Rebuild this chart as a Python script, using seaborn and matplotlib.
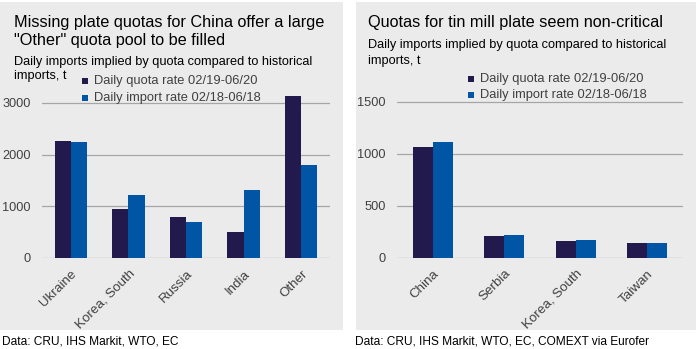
import matplotlib
matplotlib.use("Agg")
import matplotlib.pyplot as plt
import seaborn as sns
import pandas as pd
from matplotlib.patches import Rectangle

sns.set_theme(style="white")
plt.rcParams['font.family'] = ['Liberation Sans', 'DejaVu Sans']

series = ["Daily quota rate 02/19-06/20", "Daily import rate 02/18-06/18"]
left_cats = ["Ukraine", "Korea, South", "Russia", "India", "Other"]
left_quota = [2270, 948, 787, 497, 3142]
left_import = [2239, 1213, 697, 1323, 1806]
right_cats = ["China", "Serbia", "Korea, South", "Taiwan"]
right_quota = [1063, 207, 163, 147]
right_import = [1117, 220, 176, 147]

colors = ["#221a4d", "#0055a5"]
bg = "#ebebeb"
W, H = 698, 349
fig = plt.figure(figsize=(W / 100, H / 100), dpi=100)

def px(x0, y0, w, h):
    return [x0 / W, 1 - (y0 + h) / H, w / W, h / H]

# panels
fig.patches.append(Rectangle((0, 1 - 330 / H), 343 / W, 328 / H, transform=fig.transFigure,
                             facecolor=bg, edgecolor="none", zorder=-10))
fig.patches.append(Rectangle((356 / W, 1 - 330 / H), 340 / W, 328 / H, transform=fig.transFigure,
                             facecolor=bg, edgecolor="none", zorder=-10))

def make_df(cats, a, b):
    return pd.DataFrame({
        "country": cats * 2,
        "value": list(a) + list(b),
        "series": [series[0]] * len(cats) + [series[1]] * len(cats),
    })

def draw(ax, df, cats, ymax, ticks):
    sns.barplot(data=df, x="country", y="value", hue="series", order=cats,
                hue_order=series, palette=colors, width=0.56, ax=ax,
                saturation=1, legend=False, edgecolor="none")
    ax.set_facecolor("none")
    ax.set_ylim(0, ymax)
    ax.set_yticks(ticks)
    ax.set_yticklabels([str(t) for t in ticks], fontsize=9.2, color="#404040")
    for t in ticks:
        ax.axhline(t, color="#a6a6a6", lw=0.9, zorder=0)
    ax.set_xlabel("")
    ax.set_ylabel("")
    ax.tick_params(axis="y", length=0, pad=8)
    ax.tick_params(axis="x", length=0, pad=7)
    for s in ax.spines.values():
        s.set_visible(False)
    ax.set_xticks(range(len(cats)))
    ax.set_xticklabels(cats, rotation=45, ha="right", rotation_mode="anchor",
                       fontsize=9.6, color="#404040")
    ax.set_xlim(-0.5, len(cats) - 0.5)
    ax.grid(False)

# left chart
axL = fig.add_axes(px(42, 258 - 3.3 * 51.7, 288, 3.3 * 51.7))
draw(axL, make_df(left_cats, left_quota, left_import), left_cats, 3300, [0, 1000, 2000, 3000])

# right chart
axR = fig.add_axes(px(397, 258 - 1.6 * 104, 286, 1.6 * 104))
draw(axR, make_df(right_cats, right_quota, right_import), right_cats, 1600, [0, 500, 1000, 1500])

# titles
fig.text(14 / W, 1 - 22 / H, "Missing plate quotas for China offer a large",
         fontsize=11.7, va="center", ha="left", color="#000000")
fig.text(14 / W, 1 - 40 / H, "\"Other\" quota pool to be filled",
         fontsize=11.7, va="center", ha="left", color="#000000")
fig.text(14 / W, 1 - 62 / H, "Daily imports implied by quota compared to historical",
         fontsize=9.2, va="center", ha="left", color="#000000")
fig.text(14 / W, 1 - 76 / H, "imports, t",
         fontsize=9.2, va="center", ha="left", color="#000000")
fig.text(368 / W, 1 - 22 / H, "Quotas for tin mill plate seem non-critical",
         fontsize=11.7, va="center", ha="left", color="#000000")
fig.text(368 / W, 1 - 45 / H, "Daily imports implied by quota compared to historical",
         fontsize=9.2, va="center", ha="left", color="#000000")
fig.text(368 / W, 1 - 61 / H, "imports, t",
         fontsize=9.2, va="center", ha="left", color="#000000")

# legends
def legend(x, y0, dy):
    for i, (lab, c) in enumerate(zip(series, colors)):
        y = y0 + i * dy
        fig.patches.append(Rectangle(((x - 3) / W, 1 - (y + 3) / H), 6 / W, 6 / H,
                                     transform=fig.transFigure, facecolor=c, edgecolor="none"))
        fig.text((x + 9) / W, 1 - y / H, lab, fontsize=9.3, va="center", ha="left", color="#404040")

legend(85, 81, 16.5)
legend(471, 79, 16)

# footers
fig.text(2 / W, 1 - 341 / H, "Data: CRU, IHS Markit, WTO, EC", fontsize=8.6, va="center", ha="left", color="#000000")
fig.text(355 / W, 1 - 341 / H, "Data: CRU, IHS Markit, WTO, EC, COMEXT via Eurofer", fontsize=8.6,
         va="center", ha="left", color="#000000")

fig.savefig("out.png", dpi=100, facecolor="white")
